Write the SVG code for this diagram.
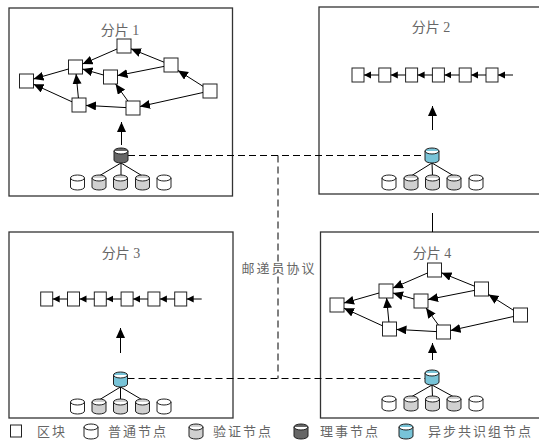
<svg xmlns="http://www.w3.org/2000/svg" xmlns:xlink="http://www.w3.org/1999/xlink" width="539" height="444" viewBox="0 0 539 444">
  <style>
    .frame { fill: #fff; stroke: #333; stroke-width: 1.3; }
    .blk { fill: #fff; stroke: #222; stroke-width: 1; }
    .edge { stroke: #000; stroke-width: 1; fill: none; marker-end: url(#ah); }
    .chain { stroke: #000; stroke-width: 1; fill: none; marker-end: url(#ahs); }
    .tree { stroke: #000; stroke-width: 1; fill: none; }
    .dash { stroke: #000; stroke-width: 1; fill: none; stroke-dasharray: 7 4; }
    .cyl { stroke: #222; stroke-width: 1; }
    .normal { fill: #fff; }
    .verify { fill: #d0d0d0; }
    .council { fill: #666; }
    .async { fill: #78c4d8; }
    .title { font-family: "Liberation Serif", "Noto Sans CJK SC", serif; font-size: 14px; fill: #666; text-anchor: middle; }
    .lbl { font-family: "Liberation Serif", "Noto Sans CJK SC", serif; font-size: 13px; fill: #666; letter-spacing: 2px; }
  </style>
  <defs>
    <marker id="ah" markerUnits="userSpaceOnUse" markerWidth="11" markerHeight="10" refX="10" refY="4.5" orient="auto">
      <path d="M0,0 L10,4.5 L0,9 Z" fill="#000"/>
    </marker>
    <marker id="ahs" markerUnits="userSpaceOnUse" markerWidth="8" markerHeight="8" refX="7" refY="4" orient="auto">
      <path d="M0,0.5 L7,4 L0,7.5 Z" fill="#000"/>
    </marker>
    <path id="cyl" d="M0,3 A7,3 0 0 1 14,3 V12 A7,3 0 0 1 0,12 Z M0,3 A7,3 0 0 0 14,3"/>
  </defs>

  <!-- shard frames -->
  <g id="shard1"><rect class="frame" x="9" y="8" width="223.5" height="188"/><text class="title" x="120" y="35">分片 1</text></g>
  <g id="shard2"><rect class="frame" x="319" y="7" width="240" height="187"/><text class="title" x="431" y="32">分片 2</text></g>
  <g id="shard3"><rect class="frame" x="9" y="232" width="224" height="186"/><text class="title" x="121" y="258">分片 3</text></g>
  <g id="shard4"><rect class="frame" x="320.5" y="232" width="240" height="186"/><text class="title" x="432" y="258">分片 4</text></g>

  <!-- link between shard 2 and shard 4 -->
  <line x1="432.5" y1="213" x2="432.5" y2="232" stroke="#000" stroke-width="1"/>

  <!-- gossip protocol connectors -->
  <g id="gossip">
    <line class="dash" x1="128" y1="155.5" x2="425" y2="155.5"/>
    <line class="dash" x1="127.5" y1="378.5" x2="425" y2="378.5"/>
    <line class="dash" x1="278" y1="155.5" x2="278" y2="378.5"/>
    <rect x="262" y="262" width="32" height="8" fill="#fff"/>
    <text class="lbl" x="279" y="273" text-anchor="middle">邮递员协议</text>
  </g>

  <!-- shard 1 DAG -->
  <g id="s1-dag">
    <g id="s1-a"><rect class="blk" x="19.5" y="74" width="14" height="14"/></g>
    <g id="s1-b"><rect class="blk" x="68.5" y="60" width="14" height="14"/></g>
    <g id="s1-c"><rect class="blk" x="117" y="39" width="14" height="14"/></g>
    <g id="s1-d"><rect class="blk" x="103.5" y="70" width="14" height="14"/></g>
    <g id="s1-e"><rect class="blk" x="164" y="58" width="14" height="14"/></g>
    <g id="s1-f"><rect class="blk" x="203" y="84" width="14" height="14"/></g>
    <g id="s1-g"><rect class="blk" x="72" y="98" width="14" height="14"/></g>
    <g id="s1-h"><rect class="blk" x="126" y="101" width="14" height="14"/></g>
    <g id="s1-edges">
      <line class="edge" x1="68.5" y1="69" x2="33.5" y2="79"/>
      <line class="edge" x1="72" y1="101.8" x2="33.5" y2="84.2"/>
      <line class="edge" x1="117" y1="49" x2="82.5" y2="64"/>
      <line class="edge" x1="103.5" y1="75" x2="82.5" y2="69"/>
      <line class="edge" x1="78.4" y1="98" x2="76.1" y2="74"/>
      <line class="edge" x1="164" y1="62.2" x2="131" y2="48.8"/>
      <line class="edge" x1="164" y1="66.4" x2="117.5" y2="75.6"/>
      <line class="edge" x1="203" y1="86.3" x2="178" y2="70.5"/>
      <line class="edge" x1="127.9" y1="101" x2="115.6" y2="84"/>
      <line class="edge" x1="126" y1="107.6" x2="86" y2="105.4"/>
      <line class="edge" x1="203" y1="92.5" x2="140" y2="106.5"/>
    </g>
  </g>

  <!-- shard 4 DAG -->
  <g id="s4-dag" transform="translate(310.5,224)">
    <g id="s4-a"><rect class="blk" x="19.5" y="74" width="14" height="14"/></g>
    <g id="s4-b"><rect class="blk" x="68.5" y="60" width="14" height="14"/></g>
    <g id="s4-c"><rect class="blk" x="117" y="39" width="14" height="14"/></g>
    <g id="s4-d"><rect class="blk" x="103.5" y="70" width="14" height="14"/></g>
    <g id="s4-e"><rect class="blk" x="164" y="58" width="14" height="14"/></g>
    <g id="s4-f"><rect class="blk" x="203" y="84" width="14" height="14"/></g>
    <g id="s4-g"><rect class="blk" x="72" y="98" width="14" height="14"/></g>
    <g id="s4-h"><rect class="blk" x="126" y="101" width="14" height="14"/></g>
    <g id="s4-edges">
      <line class="edge" x1="68.5" y1="69" x2="33.5" y2="79"/>
      <line class="edge" x1="72" y1="101.8" x2="33.5" y2="84.2"/>
      <line class="edge" x1="117" y1="49" x2="82.5" y2="64"/>
      <line class="edge" x1="103.5" y1="75" x2="82.5" y2="69"/>
      <line class="edge" x1="78.4" y1="98" x2="76.1" y2="74"/>
      <line class="edge" x1="164" y1="62.2" x2="131" y2="48.8"/>
      <line class="edge" x1="164" y1="66.4" x2="117.5" y2="75.6"/>
      <line class="edge" x1="203" y1="86.3" x2="178" y2="70.5"/>
      <line class="edge" x1="127.9" y1="101" x2="115.6" y2="84"/>
      <line class="edge" x1="126" y1="107.6" x2="86" y2="105.4"/>
      <line class="edge" x1="203" y1="92.5" x2="140" y2="106.5"/>
    </g>
  </g>

  <!-- shard 2 chain -->
  <g id="s2-chain">
    <g id="s2-b1"><rect class="blk" x="352" y="68" width="12" height="14"/></g>
    <g id="s2-b2"><rect class="blk" x="378.8" y="68" width="12" height="14"/></g>
    <g id="s2-b3"><rect class="blk" x="405.6" y="68" width="12" height="14"/></g>
    <g id="s2-b4"><rect class="blk" x="432.4" y="68" width="12" height="14"/></g>
    <g id="s2-b5"><rect class="blk" x="459.2" y="68" width="12" height="14"/></g>
    <g id="s2-b6"><rect class="blk" x="486" y="68" width="12" height="14"/></g>
    <g id="s2-links">
      <line class="chain" x1="378.8" y1="75" x2="364" y2="75"/>
      <line class="chain" x1="405.6" y1="75" x2="390.8" y2="75"/>
      <line class="chain" x1="432.4" y1="75" x2="417.6" y2="75"/>
      <line class="chain" x1="459.2" y1="75" x2="444.4" y2="75"/>
      <line class="chain" x1="486" y1="75" x2="471.2" y2="75"/>
      <line class="chain" x1="513" y1="75" x2="498" y2="75"/>
    </g>
  </g>

  <!-- shard 3 chain -->
  <g id="s3-chain" transform="translate(-311.3,224)">
    <g id="s3-b1"><rect class="blk" x="352" y="68" width="12" height="14"/></g>
    <g id="s3-b2"><rect class="blk" x="378.8" y="68" width="12" height="14"/></g>
    <g id="s3-b3"><rect class="blk" x="405.6" y="68" width="12" height="14"/></g>
    <g id="s3-b4"><rect class="blk" x="432.4" y="68" width="12" height="14"/></g>
    <g id="s3-b5"><rect class="blk" x="459.2" y="68" width="12" height="14"/></g>
    <g id="s3-b6"><rect class="blk" x="486" y="68" width="12" height="14"/></g>
    <g id="s3-links">
      <line class="chain" x1="378.8" y1="75" x2="364" y2="75"/>
      <line class="chain" x1="405.6" y1="75" x2="390.8" y2="75"/>
      <line class="chain" x1="432.4" y1="75" x2="417.6" y2="75"/>
      <line class="chain" x1="459.2" y1="75" x2="444.4" y2="75"/>
      <line class="chain" x1="486" y1="75" x2="471.2" y2="75"/>
      <line class="chain" x1="513" y1="75" x2="498" y2="75"/>
    </g>
  </g>

  <!-- upward arrows from consensus nodes to ledgers -->
  <g id="uplinks">
    <line class="edge" x1="121.5" y1="145" x2="121.5" y2="122"/>
    <line class="edge" x1="432.5" y1="130" x2="432.5" y2="106"/>
    <line class="edge" x1="120.5" y1="353" x2="120.5" y2="328"/>
    <line class="edge" x1="432.5" y1="360" x2="432.5" y2="343"/>
  </g>

  <!-- shard 1 nodes -->
  <g id="s1-nodes">
    <path class="tree" d="M121,163 L99,176 M121,163 L121,176 M121,163 L142.5,176"/>
    <g id="s1-leader"><use href="#cyl" class="cyl council" x="114" y="148"/></g>
    <g id="s1-n1"><use href="#cyl" class="cyl normal" x="70.5" y="175"/></g>
    <g id="s1-n2"><use href="#cyl" class="cyl verify" x="92" y="175"/></g>
    <g id="s1-n3"><use href="#cyl" class="cyl verify" x="113.5" y="175"/></g>
    <g id="s1-n4"><use href="#cyl" class="cyl verify" x="135.5" y="175"/></g>
    <g id="s1-n5"><use href="#cyl" class="cyl normal" x="157" y="175"/></g>
  </g>

  <!-- shard 2 nodes -->
  <g id="s2-nodes">
    <path class="tree" d="M432,163 L411,176 M432,163 L432.5,176 M432,163 L454,176"/>
    <g id="s2-leader"><use href="#cyl" class="cyl async" x="425" y="148"/></g>
    <g id="s2-n1"><use href="#cyl" class="cyl normal" x="382" y="175"/></g>
    <g id="s2-n2"><use href="#cyl" class="cyl verify" x="404" y="175"/></g>
    <g id="s2-n3"><use href="#cyl" class="cyl verify" x="425.5" y="175"/></g>
    <g id="s2-n4"><use href="#cyl" class="cyl verify" x="447" y="175"/></g>
    <g id="s2-n5"><use href="#cyl" class="cyl normal" x="469" y="175"/></g>
  </g>

  <!-- shard 3 nodes -->
  <g id="s3-nodes">
    <path class="tree" d="M120.5,387 L99,400 M120.5,387 L120.5,400 M120.5,387 L142.5,400"/>
    <g id="s3-leader"><use href="#cyl" class="cyl async" x="113.5" y="372"/></g>
    <g id="s3-n1"><use href="#cyl" class="cyl normal" x="70.5" y="399"/></g>
    <g id="s3-n2"><use href="#cyl" class="cyl verify" x="92" y="399"/></g>
    <g id="s3-n3"><use href="#cyl" class="cyl verify" x="113.5" y="399"/></g>
    <g id="s3-n4"><use href="#cyl" class="cyl verify" x="135.5" y="399"/></g>
    <g id="s3-n5"><use href="#cyl" class="cyl normal" x="157" y="399"/></g>
  </g>

  <!-- shard 4 nodes -->
  <g id="s4-nodes">
    <path class="tree" d="M432,385 L411,397 M432,385 L432.5,397 M432,385 L454,397"/>
    <g id="s4-leader"><use href="#cyl" class="cyl async" x="425" y="370"/></g>
    <g id="s4-n1"><use href="#cyl" class="cyl normal" x="382" y="396"/></g>
    <g id="s4-n2"><use href="#cyl" class="cyl verify" x="404" y="396"/></g>
    <g id="s4-n3"><use href="#cyl" class="cyl verify" x="425.5" y="396"/></g>
    <g id="s4-n4"><use href="#cyl" class="cyl verify" x="447" y="396"/></g>
    <g id="s4-n5"><use href="#cyl" class="cyl normal" x="469" y="396"/></g>
  </g>

  <!-- legend -->
  <g id="legend">
    <rect class="blk" x="10.5" y="425" width="11" height="12"/>
    <text class="lbl" x="37" y="436">区块</text>
    <use href="#cyl" class="cyl normal" x="84" y="424"/>
    <text class="lbl" x="108" y="436">普通节点</text>
    <use href="#cyl" class="cyl verify" x="189" y="424"/>
    <text class="lbl" x="213" y="436">验证节点</text>
    <use href="#cyl" class="cyl council" x="294" y="424"/>
    <text class="lbl" x="320" y="436">理事节点</text>
    <use href="#cyl" class="cyl async" x="399" y="424"/>
    <text class="lbl" x="428" y="436">异步共识组节点</text>
  </g>
</svg>
